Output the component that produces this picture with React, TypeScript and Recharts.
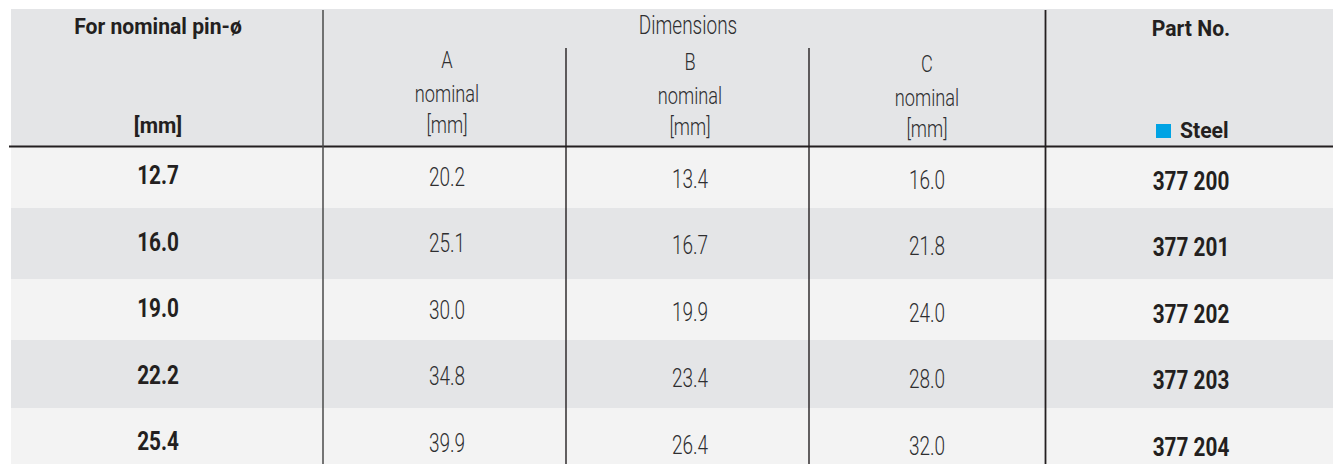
import React from 'react';
import { ComposedChart, XAxis, YAxis, Scatter, ReferenceArea, ReferenceLine } from 'recharts';

// table values
const pinDiameters: number[] = [12.7, 16.0, 19.0, 22.2, 25.4];
const dimA: number[] = [20.2, 25.1, 30.0, 34.8, 39.9];
const dimB: number[] = [13.4, 16.7, 19.9, 23.4, 26.4];
const dimC: number[] = [16.0, 21.8, 24.0, 28.0, 32.0];
const partNos: string[] = ['377 200', '377 201', '377 202', '377 203', '377 204'];

// header texts
const headerTitles: string[] = ['For nominal pin-ø', 'Dimensions', 'Part No.'];
const dimLetters: string[] = ['A', 'B', 'C'];
const nominalLabel = 'nominal';
const unitLabel = '[mm]';
const materialLabel = 'Steel';

const W = 1335;
const H = 464;
const FONT = "Roboto, 'Liberation Sans', sans-serif";
const DARK = '#231f20';
const LIGHT_TXT = '#2e2e30';
const ROW_LIGHT = '#f3f3f3';
const ROW_DARK = '#e4e5e7';
// helvetica condensed look: squeeze roboto horizontally
const SQUEEZE_LIGHT = 0.76;
const SQUEEZE_BOLD = 0.83;
const SQUEEZE_HEAD = 0.94;

// layout
const colCenters = [158, 447, 690, 927, 1191];
const colSkew = [0, 1.5, 3.5, 4.5, 5.5];
const rowBands = [147, 208, 279, 340, 408, 464];
const rowStep = 66.5;
const firstRowCenter = 175;

type Cell = { x: number; y: number; text: string; bold: boolean; skew: number };

const columns: string[][] = [
  pinDiameters.map((v) => v.toFixed(1)),
  dimA.map((v) => v.toFixed(1)),
  dimB.map((v) => v.toFixed(1)),
  dimC.map((v) => v.toFixed(1)),
  partNos,
];

const bodyCells: Cell[] = columns.flatMap((col, c) =>
  col.map((text, r) => ({ x: colCenters[c], y: r, text, bold: c === 0 || c === 4, skew: colSkew[c] }))
);

const dimHeaderSkew = [0, 1.5, 4];
type HeadCell = { x: number; y: number; text: string; bold: boolean; anchor?: string; size: number };
const headerCells: HeadCell[] = [
  { x: colCenters[0], y: 34, text: headerTitles[0], bold: true, size: 22.5 },
  { x: colCenters[0], y: 133, text: unitLabel, bold: true, size: 22.5 },
  { x: 688, y: 34, text: headerTitles[1], bold: false, size: 25 },
  { x: colCenters[4], y: 36, text: headerTitles[2], bold: true, size: 22.5 },
  { x: 1180, y: 138, text: materialLabel, bold: true, anchor: 'start', size: 22.5 },
  ...dimLetters.flatMap((letter, i) => [
    { x: colCenters[i + 1], y: 68 + dimHeaderSkew[i], text: letter, bold: false, size: 24 },
    { x: colCenters[i + 1], y: 102 + dimHeaderSkew[i], text: nominalLabel, bold: false, size: 24 },
    { x: colCenters[i + 1], y: 133 + dimHeaderSkew[i], text: unitLabel, bold: false, size: 24 },
  ]),
];

const CondensedText = ({ x, y, text, bold, size, anchor, squeeze }: any) => (
  <text
    transform={`translate(${x},${y}) scale(${squeeze},1)`}
    x={0}
    y={0}
    textAnchor={anchor || 'middle'}
    fontFamily={FONT}
    fontSize={size}
    fontWeight={bold ? 700 : 300}
    fill={bold ? DARK : LIGHT_TXT}
  >
    {text}
  </text>
);

const BodyText = (props: any) => {
  const { cx, cy, payload } = props;
  return (
    <CondensedText
      x={cx}
      y={cy + 9 + payload.skew}
      text={payload.text}
      bold={payload.bold}
      size={25}
      squeeze={payload.bold ? SQUEEZE_BOLD : SQUEEZE_LIGHT}
    />
  );
};

const HeadText = (props: any) => {
  const { cx, cy, payload } = props;
  return (
    <CondensedText
      x={cx}
      y={cy}
      text={payload.text}
      bold={payload.bold}
      size={payload.size}
      anchor={payload.anchor}
      squeeze={payload.bold ? SQUEEZE_HEAD : SQUEEZE_LIGHT}
    />
  );
};

// row axis: row index -> pixel centre
const rowDomain = [-firstRowCenter / rowStep, (H - firstRowCenter) / rowStep];

export default function App() {
  return (
    <div style={{ position: 'absolute', left: 0, top: 0, background: '#fff' }}>
      <ComposedChart width={W} height={H} margin={{ top: 0, right: 0, bottom: 0, left: 0 }}>
        <XAxis xAxisId="px" type="number" dataKey="x" domain={[0, W]} hide allowDataOverflow />
        <YAxis yAxisId="px" type="number" dataKey="y" domain={[0, H]} reversed hide allowDataOverflow />
        <YAxis yAxisId="row" type="number" dataKey="y" domain={rowDomain} reversed hide allowDataOverflow />

        <ReferenceArea xAxisId="px" yAxisId="px" x1={11} x2={1333} y1={9} y2={146} fill={ROW_DARK} fillOpacity={1} stroke="none" />
        {rowBands.slice(0, -1).map((y1, i) => (
          <ReferenceArea
            key={`band-${i}`}
            xAxisId="px"
            yAxisId="px"
            x1={11}
            x2={1333}
            y1={y1}
            y2={rowBands[i + 1]}
            fill={i % 2 === 0 ? ROW_LIGHT : ROW_DARK}
            fillOpacity={1}
            stroke="none"
          />
        ))}

        <ReferenceLine xAxisId="px" yAxisId="px" segment={[{ x: 9, y: 146.5 }, { x: 1333, y: 146.5 }]} stroke={DARK} strokeWidth={2} />
        <ReferenceLine xAxisId="px" yAxisId="px" segment={[{ x: 323, y: 10 }, { x: 323, y: H }]} stroke="#4a4a4a" strokeWidth={1.5} />
        <ReferenceLine xAxisId="px" yAxisId="px" segment={[{ x: 1045.5, y: 10 }, { x: 1045.5, y: H }]} stroke={DARK} strokeWidth={1.8} />
        <ReferenceLine xAxisId="px" yAxisId="px" segment={[{ x: 566, y: 48 }, { x: 566, y: H }]} stroke={DARK} strokeWidth={1.4} />
        <ReferenceLine xAxisId="px" yAxisId="px" segment={[{ x: 809, y: 48 }, { x: 809, y: H }]} stroke={DARK} strokeWidth={1.4} />

        <ReferenceArea xAxisId="px" yAxisId="px" x1={1156} x2={1171} y1={124} y2={138} fill="#00a3e4" fillOpacity={1} stroke="none" />

        <Scatter xAxisId="px" yAxisId="px" data={headerCells} shape={HeadText} isAnimationActive={false} />
        <Scatter xAxisId="px" yAxisId="row" data={bodyCells} shape={BodyText} isAnimationActive={false} />
      </ComposedChart>
    </div>
  );
}
